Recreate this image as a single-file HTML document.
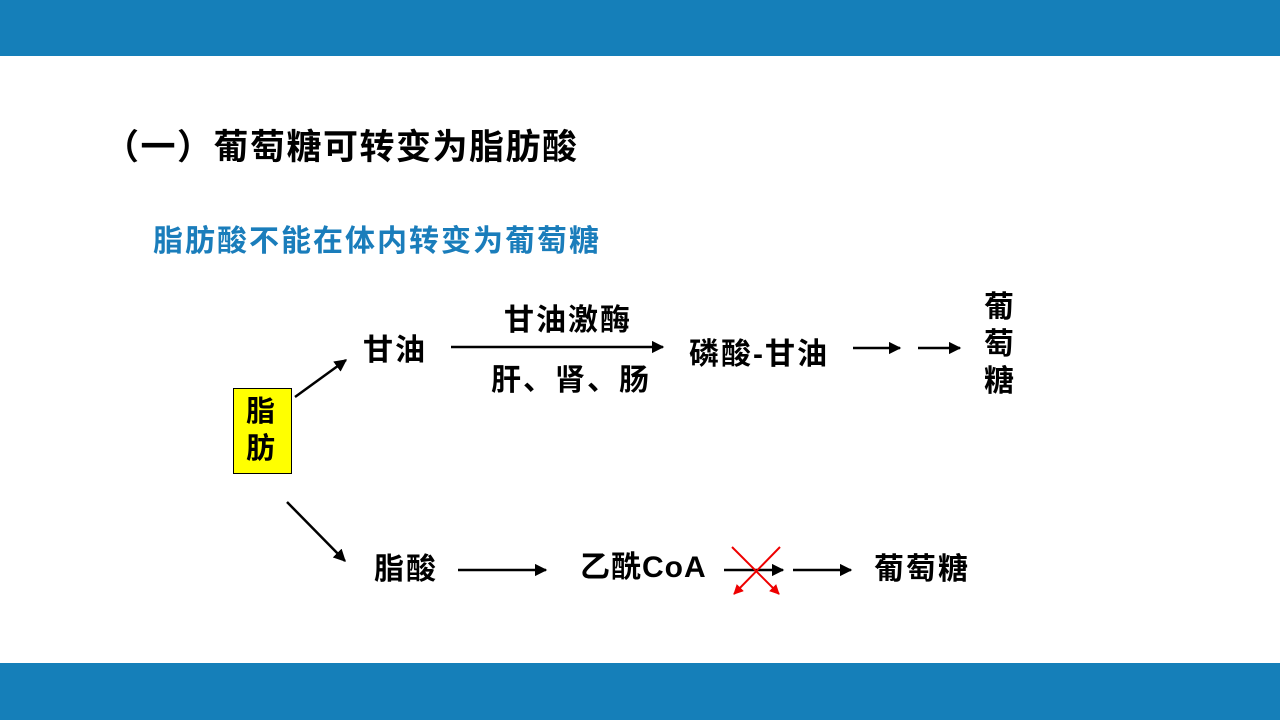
<!DOCTYPE html>
<html><head><meta charset="utf-8"><style>
body{margin:0;width:1280px;height:720px;position:relative;background:#fff;overflow:hidden;font-family:"Liberation Sans","Noto Sans CJK SC",sans-serif;font-weight:bold;}
.bar{position:absolute;left:0;width:1280px;background:#157FB9;}
.t{position:absolute;white-space:nowrap;color:#000;letter-spacing:2px;font-size:30px;}
</style></head><body>
<div class="bar" style="top:0;height:56px"></div>
<div class="bar" style="top:663px;height:57px"></div>
<div class="t" style="left:104px;top:119px;font-size:35px;letter-spacing:1.5px">（一）葡萄糖可转变为脂肪酸</div>
<div class="t" style="left:153px;top:216px;color:#1A7DBB">脂肪酸不能在体内转变为葡萄糖</div>
<div style="position:absolute;left:233px;top:388px;width:59px;height:86px;background:#FFFF00;border:1px solid #000;box-sizing:border-box"></div>
<div class="t" style="left:246px;top:394px;font-size:29px;line-height:37px">脂<br>肪</div>
<div class="t" style="left:363px;top:325px">甘油</div>
<div class="t" style="left:504px;top:295px">甘油激酶</div>
<div class="t" style="left:491px;top:355px">肝、肾、肠</div>
<div class="t" style="left:689px;top:329px">磷酸-甘油</div>
<div class="t" style="left:984px;top:289px;font-size:30px;line-height:37px">葡<br>萄<br>糖</div>
<div class="t" style="left:374px;top:544px">脂酸</div>
<div class="t" style="left:580px;top:542px;letter-spacing:1px">乙酰CoA</div>
<div class="t" style="left:874px;top:544px">葡萄糖</div>
<svg width="1280" height="720" style="position:absolute;left:0;top:0">
<defs>
<marker id="a" viewBox="0 0 10 10" refX="9" refY="5" markerWidth="5" markerHeight="5" orient="auto"><path d="M0,0L10,5L0,10z" fill="#000"/></marker>
<marker id="r" viewBox="0 0 10 10" refX="9" refY="5" markerWidth="5" markerHeight="5" orient="auto"><path d="M0,0L10,5L0,10z" fill="#e00"/></marker>
</defs>
<g stroke="#000" stroke-width="2.5" fill="none">
<line x1="295" y1="397" x2="346" y2="360" marker-end="url(#a)"/>
<line x1="287" y1="502" x2="345" y2="561" marker-end="url(#a)"/>
<line x1="451" y1="347" x2="663" y2="347" marker-end="url(#a)"/>
<line x1="853" y1="348" x2="900" y2="348" marker-end="url(#a)"/>
<line x1="918" y1="348" x2="960" y2="348" marker-end="url(#a)"/>
<line x1="458" y1="570" x2="546" y2="570" marker-end="url(#a)"/>
<line x1="724" y1="570" x2="783" y2="570" marker-end="url(#a)"/>
<line x1="793" y1="570" x2="851" y2="570" marker-end="url(#a)"/>
</g>
<g stroke="#e00" stroke-width="2" fill="none">
<line x1="732" y1="547" x2="779" y2="594" marker-end="url(#r)"/>
<line x1="780" y1="547" x2="734" y2="594" marker-end="url(#r)"/>
</g>
</svg>
</body></html>
